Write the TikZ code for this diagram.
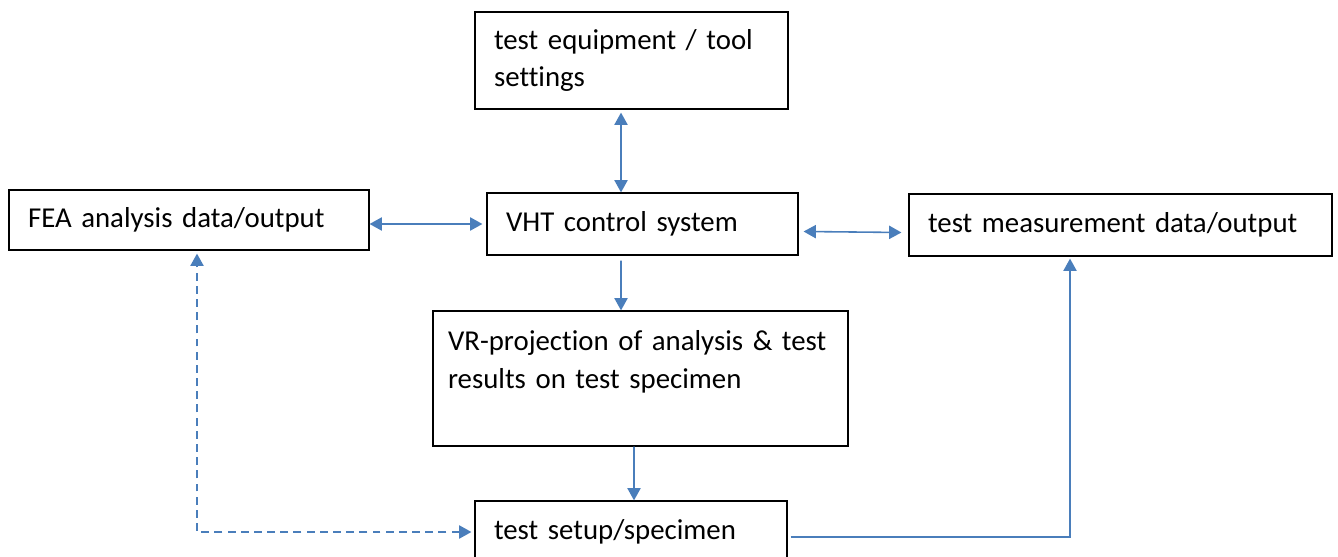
\documentclass[tikz,border=0pt]{standalone}
\usepackage{fontspec}
\setmainfont[Ligatures=NoCommon]{Carlito}
\usetikzlibrary{arrows.meta}
\definecolor{arrowBlue}{RGB}{74,126,187}
\begin{document}
\begin{tikzpicture}
[x=0.02cm,y=-0.02cm,
  boxDecorate/.style={draw,line width=0.7pt,align=left,inner xsep=0.38cm,inner ysep=0pt,
    font=\fontsize{16.4}{21.5}\selectfont},%
  blueLine/.style={draw=arrowBlue,line width=0.9pt,>={Triangle[length=7pt,width=7.5pt]}},%
  dashLine/.style={blueLine,dash pattern=on 4.5pt off 3pt}]
\useasboundingbox (0,0) rectangle (1338,557);
%% boxes
\node (tools) at (631.5,60.5) [boxDecorate,text width=5.5cm,minimum height=1.94cm]
  {test equipment / tool\\settings};
\node (fea) at (189,220) [boxDecorate,text width=6.44cm,minimum height=1.2cm]
  {FEA analysis data/output};
\node (vht) at (642.5,224) [boxDecorate,text width=5.46cm,minimum height=1.24cm]
  {VHT control system};
\node (meas) at (1120.5,225) [boxDecorate,text width=7.7cm,minimum height=1.24cm]
  {test measurement data/output};
\node (vr) at (640.5,378.5) [boxDecorate,inner xsep=0.3cm,text width=7.7cm,minimum height=2.7cm]
  {VR-projection of analysis \& test\\results on test specimen\\\mbox{}};
\node (setup) at (631,532) [boxDecorate,text width=5.48cm,minimum height=1.24cm]
  {test setup/specimen};
%% connectors
\draw[blueLine,<->] ([xshift=-0.21cm,yshift=-0.06cm]tools.south) -- ([xshift=-0.43cm]vht.north);
\draw[blueLine,<->,shorten >=0.08cm] (fea.east |- vht.west) -- (vht.west);
\draw[blueLine,<->] ([xshift=0.1cm,yshift=-0.15cm]vht.east) -- ([xshift=-0.14cm,yshift=-0.15cm]meas.west);
\draw[blueLine,->] ([xshift=-0.43cm,yshift=-0.1cm]vht.south) -- ([xshift=-0.39cm]vr.north);
\draw[blueLine,->] ([xshift=-0.13cm]vr.south) -- ([xshift=0.06cm]setup.north);
\draw[dashLine,<->] ([xshift=-0.06cm]setup.west) -| ([xshift=0.16cm,yshift=-0.06cm]fea.south);
\draw[blueLine,->] ([xshift=0.06cm,yshift=-0.1cm]setup.east) -| ([xshift=-1.01cm,yshift=-0.04cm]meas.south);
\end{tikzpicture}
\end{document}
